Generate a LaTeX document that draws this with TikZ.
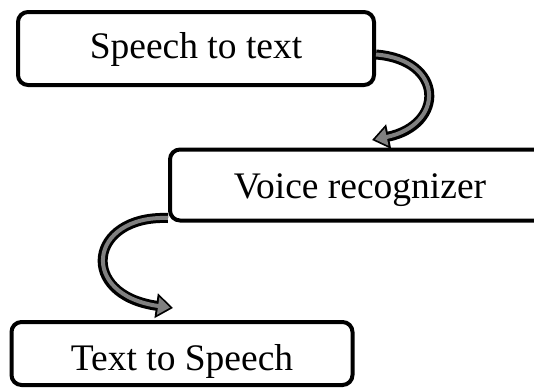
\documentclass[tikz,border=0pt]{standalone}
\usepackage{fontspec}
\setmainfont{Liberation Serif}
\usepackage{tikz}
\usetikzlibrary{arrows.meta, positioning}

\begin{document}
\begin{tikzpicture}[x=1pt, y=-1pt,
    box/.style={rectangle, draw=black, fill=white, line width=4pt, rounded corners=10pt, align=center, text depth=0pt, font=\fontsize{37.5}{40}\selectfont},
    arrowout/.style={line width=10pt, black, -{Triangle[length=17pt, width=24pt]}},
    arrowin/.style={line width=4pt, gray, shorten >=3pt, -{Triangle[length=12pt, width=17pt]}}
]
\clip (0,0) rectangle (534,388);

% Boxes
\node (STT)   [box, minimum width=356pt, minimum height=73pt, text height=19pt] at (196,48.5) {Speech to text};
\node (VOICE) [box, minimum width=380pt, minimum height=71pt, text height=26pt] at (360,185) {Voice recognizer};
\node (TTS)   [box, minimum width=341pt, minimum height=63pt, text height=33pt] at (182,353.5) {Text to Speech};

% Curved arrows
\coordinate (tipA) at (372,140);
\coordinate (tipB) at (173,308);
\draw [arrowout] ([yshift=-6pt]STT.east) .. controls (445,60) and (445,125) .. (tipA);
\draw [arrowin]  ([yshift=-6pt]STT.east) .. controls (445,60) and (445,125) .. (tipA);
\draw [arrowout] ([yshift=-33pt]VOICE.west) .. controls (88,215) and (78,295) .. (tipB);
\draw [arrowin]  ([yshift=-33pt]VOICE.west) .. controls (88,215) and (78,295) .. (tipB);

\end{tikzpicture}
\end{document}
